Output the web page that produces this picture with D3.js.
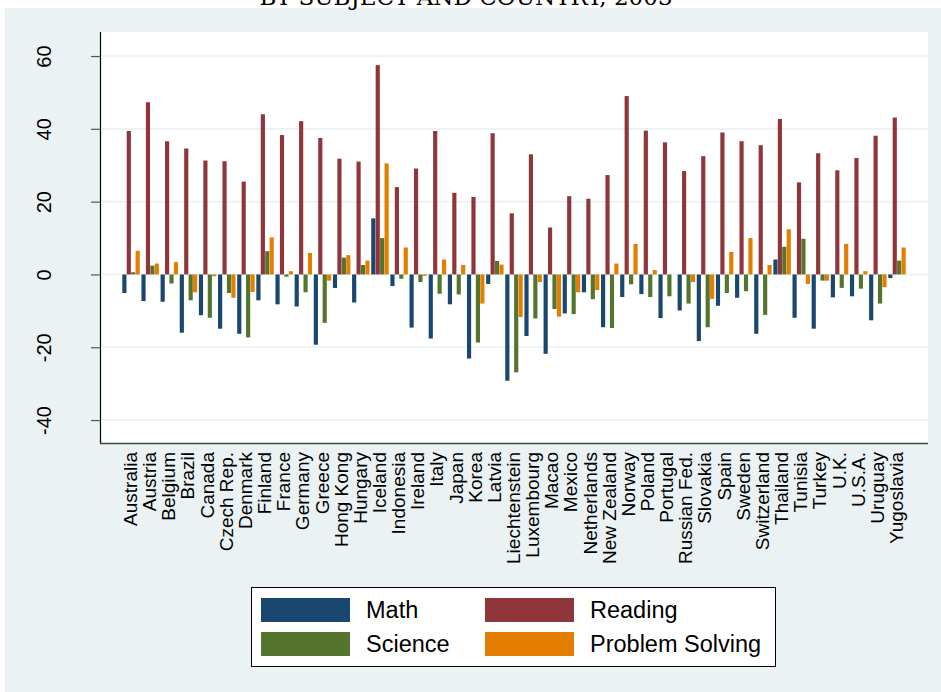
<!DOCTYPE html>
<html>
<head>
<meta charset="utf-8">
<script src="https://cdn.jsdelivr.net/npm/d3@7"></script>
<style>
  html, body { margin: 0; padding: 0; background: #ffffff; }
  svg { display: block; }
</style>
</head>
<body>
<svg id="chart" width="941" height="692"></svg>
<script>
// PISA 2003: gender gap (girls minus boys) by subject and country
const countries = ["Australia","Austria","Belgium","Brazil","Canada","Czech Rep.","Denmark","Finland","France","Germany",
  "Greece","Hong Kong","Hungary","Iceland","Indonesia","Ireland","Italy","Japan","Korea","Latvia",
  "Liechtenstein","Luxembourg","Macao","Mexico","Netherlands","New Zealand","Norway","Poland","Portugal","Russian Fed.",
  "Slovakia","Spain","Sweden","Switzerland","Thailand","Tunisia","Turkey","U.K.","U.S.A.","Uruguay","Yugoslavia"];

const mathVals = [-5.1,-7.3,-7.5,-16.0,-11.2,-14.9,-16.3,-7.1,-8.2,-8.8,
  -19.3,-3.7,-7.7,15.4,-3.2,-14.6,-17.6,-8.2,-23.1,-2.6,
  -29.2,-16.9,-21.8,-10.7,-4.9,-14.5,-6.2,-5.4,-12.0,-9.9,
  -18.3,-8.6,-6.4,-16.3,4.1,-11.9,-14.9,-6.3,-6.0,-12.6,-1.0];
const readingVals = [39.4,47.3,36.6,34.6,31.3,31.1,25.5,44.0,38.3,42.1,
  37.5,31.8,31.0,57.5,24.0,29.1,39.4,22.4,21.3,38.8,
  16.8,33.0,12.9,21.5,20.8,27.3,49.0,39.5,36.3,28.4,
  32.5,39.0,36.6,35.5,42.7,25.3,33.3,28.6,32.0,38.1,43.1];
const scienceVals = [0.6,2.4,-2.5,-7.1,-11.9,-5.1,-17.3,6.4,-0.6,-4.9,
  -13.3,4.6,2.6,10.0,-1.2,-2.1,-5.3,-5.5,-18.7,3.7,
  -26.9,-12.1,-9.5,-10.9,-6.8,-14.7,-2.7,-6.2,-6.0,-8.0,
  -14.5,-5.1,-4.6,-11.1,7.6,9.8,-1.7,-3.7,-3.9,-8.0,3.8];
const problemVals = [6.5,3.0,3.4,-4.9,-0.5,-6.4,-4.8,10.2,0.9,5.9,
  -1.7,5.3,3.8,30.5,7.4,-0.4,4.1,2.6,-8.0,2.7,
  -11.7,-2.1,-11.6,-4.9,-4.3,3.0,8.4,1.2,0.0,-2.1,
  -6.7,6.2,10.0,2.6,12.4,-2.6,-1.7,8.4,0.9,-3.5,7.4];

const subjects = ["Math","Reading","Science","Problem Solving"];
const subjectColors = ["#1a476f","#90353b","#55752f","#e37e00"];
const yTicks = [-40,-20,0,20,40,60];
const titleText = "BY SUBJECT AND COUNTRY, 2003";

const series = [mathVals, readingVals, scienceVals, problemVals];
const rows = countries.map((c, i) => ({country: c, values: series.map(s => s[i])}));

const svg = d3.select("#chart");
const W = 941, H = 692;
const plot = {left: 100, right: 928, top: 32, bottom: 443};

// outer graph region
svg.append("rect").attr("x", 5).attr("y", 8).attr("width", W - 5).attr("height", H - 8)
  .attr("fill", "#eaf2f3");

// title, sitting just above the graph region
svg.append("text").attr("x", 466).attr("y", 5).attr("text-anchor", "middle")
  .attr("font-family", "DejaVu Serif, serif").attr("font-size", 23).attr("fill", "#000")
  .text(titleText);

// plot region
svg.append("rect").attr("x", plot.left).attr("y", plot.top)
  .attr("width", plot.right - plot.left).attr("height", plot.bottom - plot.top)
  .attr("fill", "#ffffff");

const y = d3.scaleLinear().domain([-46.3, 66.6]).range([plot.bottom, plot.top]);
const x0 = d3.scaleBand().domain(countries).range([plot.left, plot.right])
  .paddingInner(0.06).paddingOuter(1.15);
const x1 = d3.scaleBand().domain(subjects).range([0, x0.bandwidth()]).padding(0.06);

// gridlines
svg.append("g").selectAll("line").data(yTicks).join("line")
  .attr("x1", plot.left).attr("x2", plot.right)
  .attr("y1", d => y(d)).attr("y2", d => y(d))
  .attr("stroke", "#eaf2f3").attr("stroke-width", 1.6);

// bars
const groups = svg.append("g").selectAll("g").data(rows).join("g")
  .attr("transform", d => `translate(${x0(d.country)},0)`);
groups.selectAll("rect").data(d => d.values.map((v, k) => ({subject: subjects[k], v, k})))
  .join("rect")
  .attr("x", d => x1(d.subject))
  .attr("width", x1.bandwidth())
  .attr("y", d => y(Math.max(0, d.v)))
  .attr("height", d => Math.abs(y(d.v) - y(0)))
  .attr("fill", d => subjectColors[d.k]);

// y axis
const yAxis = d3.axisLeft(y).tickValues(yTicks).tickFormat(d => String(d)).tickSize(9).tickPadding(4);
const gy = svg.append("g").attr("transform", `translate(${plot.left},0)`).call(yAxis);
gy.select(".domain").attr("d", `M0.5,${plot.top}V${plot.bottom}`).attr("stroke", "#000").attr("stroke-width", 1.2);
gy.selectAll(".tick line").attr("stroke", "#555").attr("stroke-width", 1.2);
gy.selectAll(".tick text")
  .attr("font-family", "Liberation Sans, Arial, sans-serif").attr("font-size", 20).attr("fill", "#000")
  .attr("text-anchor", "middle").attr("x", null).attr("dy", null)
  .attr("transform", "translate(-49,0) rotate(-90)");

// x axis
const xAxis = d3.axisBottom(x0).tickSize(0).tickPadding(0);
const gx = svg.append("g").attr("transform", `translate(0,${plot.bottom})`).call(xAxis);
gx.select(".domain").attr("d", `M${plot.left},0.5H${plot.right}`).attr("stroke", "#444").attr("stroke-width", 1.5);
gx.selectAll(".tick text")
  .attr("font-family", "Liberation Sans, Arial, sans-serif").attr("font-size", 19).attr("fill", "#000")
  .attr("text-anchor", "end").attr("y", null).attr("dy", null)
  .attr("transform", "translate(6,9) rotate(-90)");

// legend
const lg = svg.append("g");
lg.append("rect").attr("x", 251.5).attr("y", 587.5).attr("width", 524).attr("height", 79)
  .attr("fill", "#fff").attr("stroke", "#000").attr("stroke-width", 1);
const legendPos = [[261, 598], [485, 598], [261, 632], [485, 632]];
subjects.forEach((s, i) => {
  const [lx, ly] = legendPos[i];
  lg.append("rect").attr("x", lx).attr("y", ly).attr("width", 89).attr("height", 24)
    .attr("fill", subjectColors[i]);
  lg.append("text").attr("x", lx + 105).attr("y", ly + 20)
    .attr("font-family", "Liberation Sans, Arial, sans-serif").attr("font-size", 23.5).attr("fill", "#000")
    .text(s);
});
</script>
</body>
</html>
